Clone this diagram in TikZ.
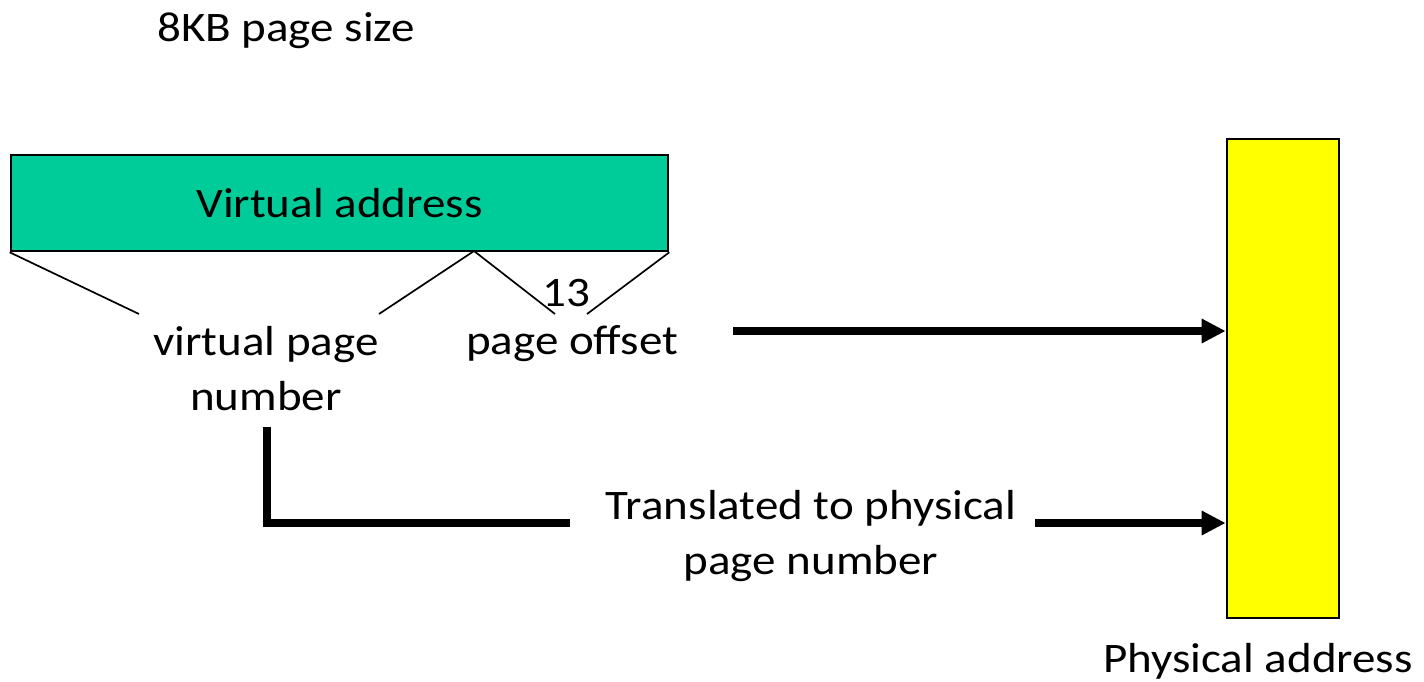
\documentclass[tikz,border=0pt]{standalone}
\usepackage{fontspec}
\setmainfont{Carlito}[FakeStretch=1.12]
\usetikzlibrary{arrows.meta}
\definecolor{vgreen}{RGB}{0,204,153}
\definecolor{pyellow}{RGB}{255,255,0}
\begin{document}
\begin{tikzpicture}[x=0.5pt,y=-0.5pt,
  lbl/.style={font=\fontsize{21}{27.5}\selectfont, inner sep=0pt, align=center},
  boxstyle/.style={draw=black, line width=1.3pt, inner sep=0pt},
  leg/.style={line width=0.85pt},
  fat/.style={line width=3.8pt, line join=miter},
  fatarrow/.style={line width=4pt, -{Triangle[length=12pt,width=11.5pt]}}
]
\useasboundingbox (0,0) rectangle (1424,681);

% title
\node[lbl, anchor=base] (size) at (286,41) {8KB page size};

% virtual address box
\node[boxstyle, fill=vgreen, minimum width=328.5pt, minimum height=48pt,
      font=\fontsize{21}{25}\selectfont] (va) at (339.5,203) {Virtual address};

% split legs
\coordinate (apex) at (474,251);
\coordinate (l1) at (139,314);
\coordinate (l2) at (379,314);
\coordinate (l3) at (555,314);
\coordinate (l4) at (587,314);
\draw[leg] (va.south west) -- (l1);
\draw[leg] (apex) -- (l2);
\draw[leg] (apex) -- (l3);
\draw[leg] (va.south east) -- (l4);

% labels
\node[lbl, anchor=base] (thirteen) at (566,306) {13};
\node[lbl, anchor=base] (vpn) at (266,410) {virtual page\\number};
\node[lbl, anchor=base] (po) at (572,354) {page offset};
\node[lbl, anchor=base] (tr) at (811,574) {Translated to physical\\page number};

% physical address box
\node[boxstyle, fill=pyellow, minimum width=56pt, minimum height=239.5pt] (pb) at (1283,378.5) {};
\node[lbl, anchor=base] (pa) at (1258,672) {Physical address};

% connectors
\coordinate (a1) at (733,331);
\draw[fatarrow] (a1) -- (a1 -| pb.west);
\coordinate (c1) at (267,427);
\coordinate (c2) at (570,523);
\draw[fat] (c1) |- (c2);
\coordinate (a2) at (1035,523);
\draw[fatarrow] (a2) -- (a2 -| pb.west);
\end{tikzpicture}
\end{document}
